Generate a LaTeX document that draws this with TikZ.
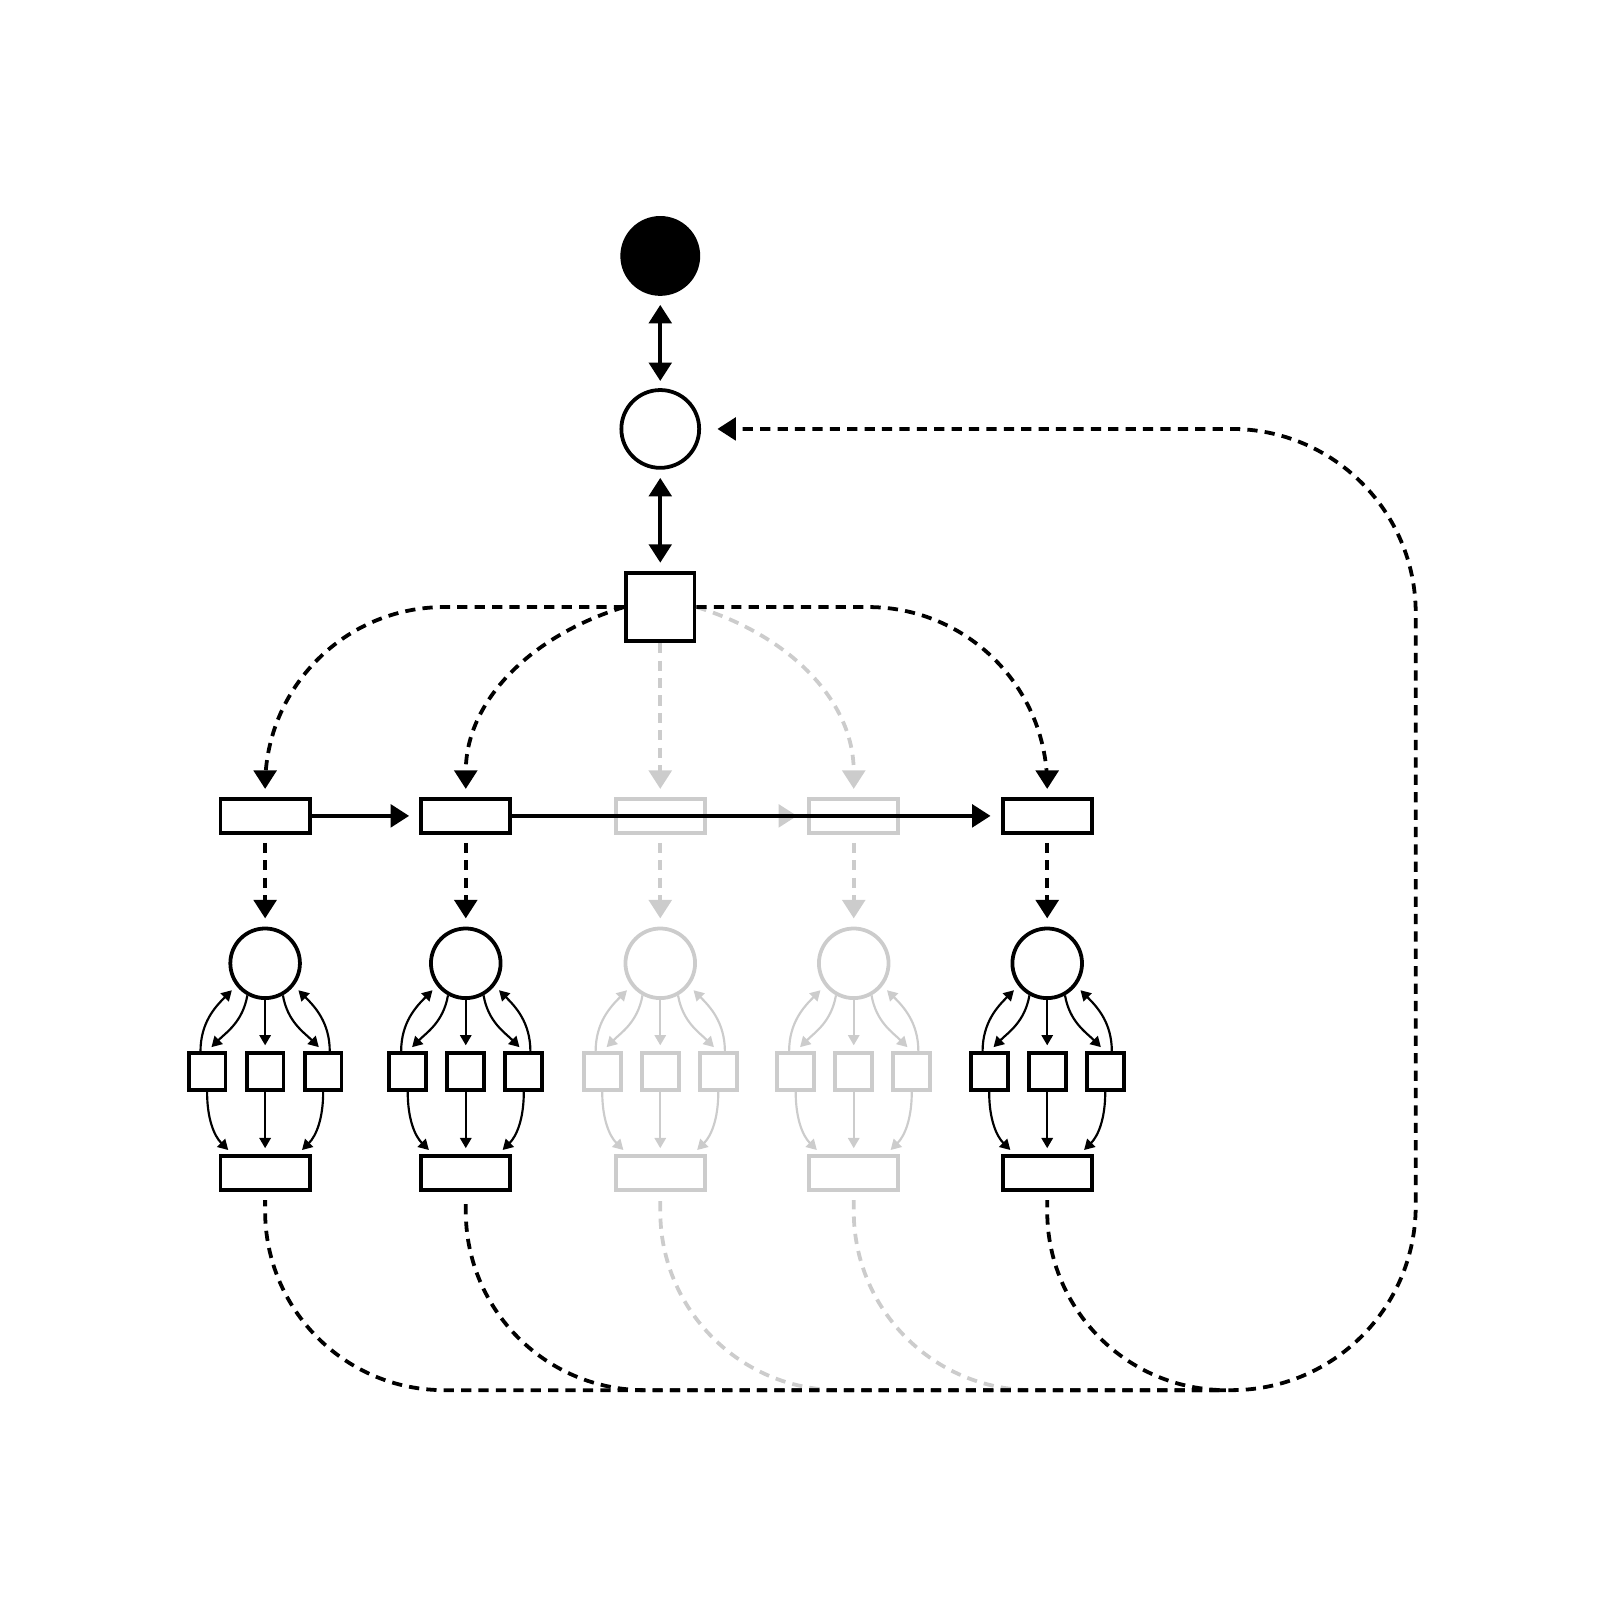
\documentclass[tikz,border=0pt]{standalone}
\usepackage{tikz}
\usepackage{xcolor}
\usetikzlibrary{positioning}
\usetikzlibrary{arrows.meta}
\usetikzlibrary{math}
\usetikzlibrary{calc}

\definecolor{fadegray}{HTML}{CCCCCC}

\begin{document}
\begin{tikzpicture}[line width=1.05pt,
  >={Triangle[length=1.8mm,width=2.2mm]},
  wide/.style={draw, rectangle, inner sep=0pt, minimum width=0.87cm, minimum height=0.33cm},
  cell/.style={draw, rectangle, inner sep=0pt, minimum size=0.36cm},
  ring/.style={draw, circle, inner sep=0pt, minimum size=0.68cm},
  link/.style={->, shorten >=1mm},
  flow/.style={->, shorten >=0.8mm, dash pattern=on 1mm off 0.7mm},
  twig/.style={line width=0.6pt, -{Triangle[length=1mm,width=1.1mm]}, shorten >=0.6mm}]

  \tikzmath{
    \bendradius = 1.75; % radius of the rounded corners
    \cellgap    = 0.17; % space between the small cells
  }

  \useasboundingbox (0,0) rectangle (15.63,-15.63);

  % top of the chain
  \node[circle, fill, inner sep=0pt, minimum size=0.78cm] (root) at (6.45,-2.50) {};
  \node[ring, minimum size=0.76cm] (hub) at (6.45,-4.19) {};
  \node[draw, rectangle, inner sep=0pt, minimum size=0.67cm] (ctrl) at (6.45,-5.93) {};
  \coordinate (merge) at (12.00,-13.58);
  \coordinate (turn) at (13.83,-13.58);

  \draw[<->, shorten >=0.7mm, shorten <=0.7mm] (root) -- (hub);
  \draw[<->, shorten >=0.8mm, shorten <=0.8mm] (hub) -- (ctrl);

  % the five columns
  \foreach \i/\x/\shade in {1/2.59/black, 2/4.55/black, 3/6.45/fadegray, 4/8.34/fadegray, 5/10.23/black}{
    \begin{scope}[color=\shade]
      \node[wide] (top\i) at (\x,-7.97) {};
      \node[ring] (mid\i) at (\x,-9.41) {};
      \node[cell] (sm\i) at (\x,-10.47) {};
      \node[cell, left=\cellgap cm of sm\i] (sl\i) {};
      \node[cell, right=\cellgap cm of sm\i] (sr\i) {};
      \node[wide] (bot\i) at (\x,-11.46) {};

      \draw[flow, shorten <=0.8mm] (top\i) -- (mid\i);

      \draw[twig] (mid\i.-119) to[out=-100, in=45] (sl\i.north);
      \draw[twig] (sl\i.108) to[out=90, in=-135] (mid\i.-142);
      \draw[twig] (mid\i) -- (sm\i);
      \draw[twig] (mid\i.-61) to[out=-80, in=135] (sr\i.north);
      \draw[twig] (sr\i.72) to[out=90, in=-45] (mid\i.-38);

      \draw[twig] (sl\i.south) to[out=-90, in=135] (bot\i.150);
      \draw[twig] (sm\i) -- (bot\i);
      \draw[twig] (sr\i.south) to[out=-90, in=45] (bot\i.30);
    \end{scope}
  }

  % fan out from the control box
  \draw[flow, fadegray] (ctrl) -- (top3);
  \draw[flow, fadegray] (ctrl.east) to[out=-17, in=90] (top4.north);
  \draw[flow] (ctrl.west) to[out=197, in=90] (top2.north);
  \draw[flow, rounded corners=\bendradius cm] (ctrl.west) -| (top1.north);
  \draw[flow, rounded corners=\bendradius cm] (ctrl.east) -| (top5.north);

  % links along the row
  \draw[link, fadegray] (top3) -- (top4);
  \draw[link] (top1) -- (top2);
  \draw[link] (top2) -- (top5);

  % back to the hub (phase shifted so the dashes line up)
  \foreach \i/\x in {3/6.45, 4/8.34}
    \draw[flow, -, fadegray, dash phase=\x cm, shorten <=0.8mm, rounded corners=\bendradius cm] (bot\i.south) |- (merge);
  \foreach \i/\x in {1/2.59, 2/4.55, 5/10.23}
    \draw[flow, -, dash phase=\x cm, shorten <=0.8mm, rounded corners=\bendradius cm] (bot\i.south) |- (merge);
  \draw[flow, shorten >=1.6mm, rounded corners=1.8cm] (merge) -- (turn) |- (hub.east);

\end{tikzpicture}
\end{document}
